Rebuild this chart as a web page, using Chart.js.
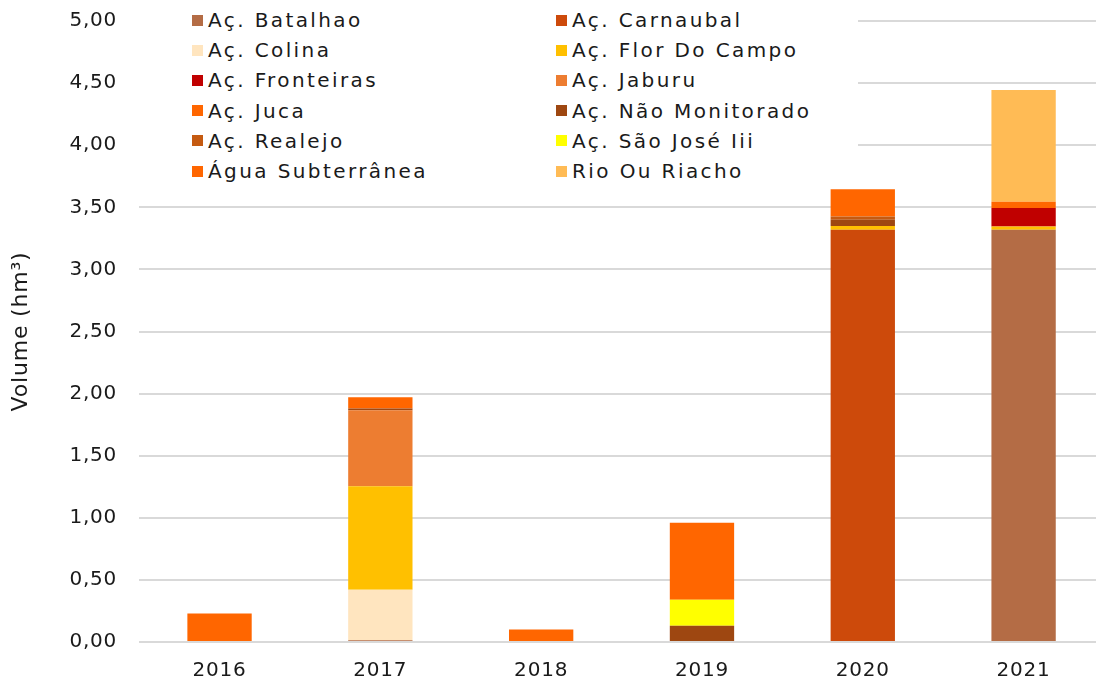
<!DOCTYPE html>
<html>
<head>
<meta charset="utf-8">
<script src="https://cdn.jsdelivr.net/npm/chart.js@4/dist/chart.umd.min.js"></script>
<style>
  html, body { margin: 0; padding: 0; background: #fff; }
  #wrap { position: relative; width: 1096px; height: 686px; overflow: hidden; }
  #myChart { position: absolute; left: 0; top: -13px; }
  #legend {
    position: absolute; left: 138px; top: 0; width: 720px; height: 186px;
    background: #fff; box-sizing: border-box; padding: 5px 0 0 54px;
    display: grid; grid-template-columns: 364px 300px; grid-auto-rows: 30.2px;
    font-family: "DejaVu Sans", sans-serif; font-size: 20px; letter-spacing: 2.4px;
    color: #1a1a1a;
  }
  .item { display: flex; align-items: center; white-space: nowrap; }
  .sw { width: 11px; height: 11px; margin-right: 5px; flex: none; }
</style>
</head>
<body>
<div id="wrap">
  <canvas id="myChart" width="1104" height="705"></canvas>
  <div id="legend"></div>
</div>
<script>
const years = ['2016', '2017', '2018', '2019', '2020', '2021'];

// volumes per source, hm³ (null = no bar segment)
const batalhao        = [null, 0.015, null, null, null, 3.32];
const carnaubal       = [null, null, null, null, 3.32, null];
const colina          = [null, 0.405, null, null, null, null];
const florDoCampo     = [null, 0.835, null, null, 0.03, 0.025];
const fronteiras      = [null, null, null, null, null, 0.15];
const jaburu          = [null, 0.61, null, null, null, null];
const juca            = [null, null, null, null, null, 0.05];
const naoMonitorado   = [null, 0.015, null, 0.13, 0.05, null];
const realejo         = [null, null, null, null, 0.025, null];
const saoJose         = [null, null, null, 0.21, null, null];
const aguaSubterranea = [0.23, 0.09, 0.1, 0.62, 0.22, null];
const rioOuRiacho     = [null, null, null, null, null, 0.9];

const sources = [
  ['Aç. Batalhao', batalhao, '#b46c45'],
  ['Aç. Carnaubal', carnaubal, '#cd4a0b'],
  ['Aç. Colina', colina, '#ffe5bf'],
  ['Aç. Flor Do Campo', florDoCampo, '#ffc000'],
  ['Aç. Fronteiras', fronteiras, '#c00000'],
  ['Aç. Jaburu', jaburu, '#ed7d31'],
  ['Aç. Juca', juca, '#ff6600'],
  ['Aç. Não Monitorado', naoMonitorado, '#9e4711'],
  ['Aç. Realejo', realejo, '#c55a11'],
  ['Aç. São José Iii', saoJose, '#ffff00'],
  ['Água Subterrânea', aguaSubterranea, '#ff6600'],
  ['Rio Ou Riacho', rioOuRiacho, '#ffbb55']
];

const font = { family: '"DejaVu Sans", sans-serif', size: 20 };

// a little extra tracking on canvas text
const spacing = {
  id: 'spacing',
  beforeUpdate: c => { c.ctx.letterSpacing = '0.8px'; },
  beforeDraw: c => { c.ctx.letterSpacing = '0.8px'; }
};

new Chart(document.getElementById('myChart'), {
  type: 'bar',
  data: {
    labels: years,
    datasets: sources.map(s => ({
      label: s[0],
      data: s[1],
      backgroundColor: s[2],
      categoryPercentage: 1,
      barPercentage: 0.4
    }))
  },
  plugins: [spacing],
  options: {
    responsive: false,
    animation: false,
    layout: { padding: { top: 0, right: 0, bottom: 0, left: 4 } },
    plugins: { legend: { display: false }, tooltip: { enabled: false } },
    scales: {
      x: {
        stacked: true,
        grid: { display: false },
        border: { display: false },
        ticks: { font: font, color: '#1a1a1a', padding: 9 }
      },
      y: {
        stacked: true,
        min: 0,
        max: 5,
        grid: { color: '#d9d9d9', lineWidth: 2, drawTicks: false },
        border: { display: false },
        ticks: {
          stepSize: 0.5,
          font: font,
          color: '#1a1a1a',
          padding: 22,
          callback: v => v.toFixed(2).replace('.', ',')
        },
        title: {
          display: true, text: 'Volume (hm³)', color: '#1a1a1a',
          padding: { top: 4, bottom: 13 },
          font: { family: '"DejaVu Sans", sans-serif', size: 22 }
        }
      }
    }
  }
});

// two-column legend, filled row by row
const legend = document.getElementById('legend');
sources.forEach(s => {
  const item = document.createElement('div');
  item.className = 'item';
  item.innerHTML = '<span class="sw" style="background:' + s[2] + '"></span>' + s[0];
  legend.appendChild(item);
});
</script>
</body>
</html>
